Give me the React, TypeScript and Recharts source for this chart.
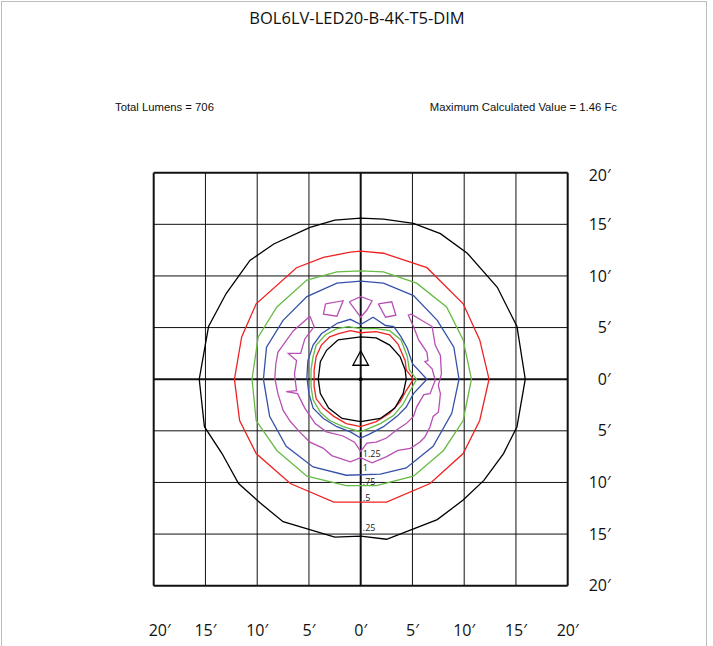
import React from 'react';
import {
  ScatterChart,
  Scatter,
  XAxis,
  YAxis,
  ReferenceLine,
} from 'recharts';

type Pt = { x: number; y: number };

// distance ticks in feet
const ticks = [-20, -15, -10, -5, 0, 5, 10, 15, 20];

// isofootcandle contours, feet from the pole (x right, y up)
const outer025: Pt[] = [
  { x: 0, y: 15.6 }, { x: 2.2, y: 15.5 }, { x: 5.1, y: 15.1 }, { x: 7.7, y: 14.1 },
  { x: 10.3, y: 12.2 }, { x: 13.2, y: 8.9 }, { x: 15.1, y: 5.1 }, { x: 15.9, y: 0 },
  { x: 15.1, y: -4.6 }, { x: 13.8, y: -7.2 }, { x: 11.9, y: -9.8 }, { x: 9.9, y: -11.7 },
  { x: 7.4, y: -13.6 }, { x: 2.5, y: -15.5 }, { x: 0, y: -15.2 }, { x: -2.5, y: -15.3 },
  { x: -7.5, y: -13.8 }, { x: -9.7, y: -12.0 }, { x: -11.8, y: -10.1 }, { x: -13.4, y: -7.2 },
  { x: -15.1, y: -4.6 }, { x: -15.6, y: 0 }, { x: -14.7, y: 5.1 }, { x: -13.0, y: 8.3 },
  { x: -10.7, y: 11.5 }, { x: -8.4, y: 13.1 }, { x: -4.9, y: 14.7 }, { x: -2.5, y: 15.4 },
  { x: 0, y: 15.6 },
];

const outer05: Pt[] = [
  { x: 0, y: 12.4 }, { x: 2.2, y: 12.2 }, { x: 6.4, y: 10.8 }, { x: 9.9, y: 7.3 },
  { x: 11.5, y: 3.8 }, { x: 12.4, y: 0 }, { x: 11.5, y: -4.0 }, { x: 9.9, y: -7.2 },
  { x: 6.7, y: -10.1 }, { x: 2.5, y: -11.9 }, { x: 0, y: -11.9 }, { x: -2.6, y: -11.9 },
  { x: -6.8, y: -10.1 }, { x: -10.1, y: -7.2 }, { x: -11.7, y: -4.0 }, { x: -12.2, y: 0 },
  { x: -11.5, y: 4.1 }, { x: -10.1, y: 7.3 }, { x: -6.2, y: 10.8 }, { x: -3.6, y: 11.8 },
  { x: -1.0, y: 12.3 }, { x: 0, y: 12.4 },
];

const outer075: Pt[] = [
  { x: 0, y: 10.5 }, { x: 2.2, y: 10.4 }, { x: 5.4, y: 9.3 }, { x: 8.3, y: 7.0 },
  { x: 9.9, y: 3.8 }, { x: 10.7, y: 0 }, { x: 9.9, y: -4.0 }, { x: 8.0, y: -6.9 },
  { x: 5.1, y: -9.4 }, { x: 1.5, y: -10.3 }, { x: -1.4, y: -10.3 }, { x: -5.2, y: -9.4 },
  { x: -8.1, y: -6.9 }, { x: -10.1, y: -4.0 }, { x: -10.5, y: 0 }, { x: -9.9, y: 4.1 },
  { x: -8.1, y: 7.0 }, { x: -5.2, y: 9.6 }, { x: -2.3, y: 10.4 }, { x: 0, y: 10.5 },
];

const outer1: Pt[] = [
  { x: 0, y: 9.5 }, { x: 2.2, y: 9.3 }, { x: 5.1, y: 8.1 }, { x: 7.4, y: 5.7 },
  { x: 9.0, y: 3.1 }, { x: 9.5, y: 0 }, { x: 8.8, y: -3.3 }, { x: 7.0, y: -6.5 },
  { x: 4.4, y: -8.6 }, { x: 1.9, y: -9.2 }, { x: -1.4, y: -9.3 }, { x: -4.6, y: -8.5 },
  { x: -7.2, y: -6.5 }, { x: -8.8, y: -3.6 }, { x: -9.4, y: 0 }, { x: -9.1, y: 3.1 },
  { x: -7.5, y: 5.7 }, { x: -5.2, y: 8.0 }, { x: -2.3, y: 9.3 }, { x: 0, y: 9.5 },
];

const inner1: Pt[] = [
  { x: -2.3, y: 5.4 }, { x: -1.0, y: 5.8 }, { x: 0, y: 5.3 }, { x: 1.2, y: 6.0 },
  { x: 2.4, y: 5.2 }, { x: 3.2, y: 5.1 }, { x: 3.9, y: 4.1 }, { x: 4.5, y: 3.0 },
  { x: 5.0, y: 1.5 }, { x: 6.4, y: 0 }, { x: 5.1, y: -1.4 }, { x: 4.4, y: -2.7 },
  { x: 3.5, y: -3.6 }, { x: 2.2, y: -4.6 }, { x: 0.9, y: -5.3 }, { x: 0, y: -5.7 },
  { x: -1.0, y: -5.1 }, { x: -2.3, y: -4.6 }, { x: -3.6, y: -3.8 }, { x: -4.6, y: -2.8 },
  { x: -5.0, y: -1.4 }, { x: -5.2, y: 0.2 }, { x: -5.1, y: 1.8 }, { x: -4.6, y: 3.3 },
  { x: -3.8, y: 4.4 }, { x: -2.3, y: 5.4 },
];

const inner075: Pt[] = [
  { x: -2.3, y: 4.9 }, { x: -1.2, y: 5.1 }, { x: 0, y: 4.9 }, { x: 1.5, y: 4.9 },
  { x: 2.8, y: 4.7 }, { x: 3.9, y: 3.8 }, { x: 4.5, y: 2.2 }, { x: 4.7, y: 0.9 },
  { x: 5.4, y: 0 }, { x: 4.8, y: -1.1 }, { x: 4.1, y: -2.4 }, { x: 3.2, y: -3.5 },
  { x: 1.9, y: -4.3 }, { x: 0, y: -5.1 }, { x: -1.7, y: -4.6 }, { x: -3.0, y: -4.0 },
  { x: -3.9, y: -3.2 }, { x: -4.6, y: -2.0 }, { x: -4.8, y: -0.7 }, { x: -4.8, y: 0.9 },
  { x: -4.6, y: 2.2 }, { x: -4.3, y: 3.3 }, { x: -3.4, y: 4.3 }, { x: -2.3, y: 4.9 },
];

const inner05: Pt[] = [
  { x: -2.2, y: 4.4 }, { x: -1.0, y: 4.7 }, { x: 0, y: 4.5 }, { x: 1.5, y: 4.6 },
  { x: 2.8, y: 4.3 }, { x: 3.6, y: 3.4 }, { x: 4.3, y: 1.8 }, { x: 4.4, y: 0.9 },
  { x: 5.1, y: 0 }, { x: 4.4, y: -1.1 }, { x: 3.8, y: -2.2 }, { x: 2.8, y: -3.3 },
  { x: 1.5, y: -4.1 }, { x: 0, y: -4.6 }, { x: -1.4, y: -4.3 }, { x: -2.6, y: -3.6 },
  { x: -3.6, y: -2.8 }, { x: -4.3, y: -1.9 }, { x: -4.5, y: -0.7 }, { x: -4.5, y: 0.9 },
  { x: -4.3, y: 2.2 }, { x: -3.8, y: 3.3 }, { x: -3.0, y: 4.1 }, { x: -2.2, y: 4.4 },
];

const inner025: Pt[] = [
  { x: -2.2, y: 3.8 }, { x: 0, y: 4.1 }, { x: 1.5, y: 4.0 }, { x: 2.8, y: 3.3 },
  { x: 3.8, y: 2.2 }, { x: 4.3, y: 0.9 }, { x: 4.4, y: 0 }, { x: 4.1, y: -1.4 },
  { x: 3.3, y: -2.8 }, { x: 1.9, y: -3.8 }, { x: 0, y: -4.1 }, { x: -1.8, y: -3.8 },
  { x: -3.1, y: -2.8 }, { x: -3.9, y: -1.4 }, { x: -4.1, y: 0 }, { x: -3.9, y: 1.7 },
  { x: -3.3, y: 2.8 }, { x: -2.2, y: 3.8 },
];

// 1.25 fc band (open at the top) and the three small islands above the pole
const band125: Pt[] = [
  { x: -4.9, y: 6.1 }, { x: -5.7, y: 5.4 }, { x: -6.5, y: 4.7 }, { x: -7.3, y: 3.6 },
  { x: -8.0, y: 2.6 }, { x: -8.2, y: 1.5 }, { x: -8.3, y: 0.1 }, { x: -8.0, y: -1.4 },
  { x: -7.5, y: -3.0 }, { x: -6.8, y: -4.1 }, { x: -5.9, y: -5.1 }, { x: -4.9, y: -6.1 },
  { x: -3.6, y: -6.7 }, { x: -2.8, y: -7.4 }, { x: -1.0, y: -8.0 }, { x: 0, y: -7.6 },
  { x: 1.1, y: -8.1 }, { x: 2.5, y: -7.5 }, { x: 3.6, y: -6.9 }, { x: 4.8, y: -6.7 },
  { x: 5.7, y: -6.1 }, { x: 6.2, y: -5.6 }, { x: 6.7, y: -4.6 }, { x: 7.0, y: -3.6 },
  { x: 7.5, y: -3.2 }, { x: 7.6, y: -2.4 }, { x: 7.7, y: -1.4 }, { x: 7.5, y: -0.6 },
  { x: 7.8, y: 0.5 }, { x: 7.7, y: 2.3 }, { x: 7.2, y: 3.3 }, { x: 6.9, y: 5.1 },
  { x: 4.9, y: 6.3 }, { x: 4.6, y: 6.2 }, { x: 5.1, y: 5.1 }, { x: 5.6, y: 3.8 },
  { x: 6.4, y: 2.6 }, { x: 6.5, y: 1.8 }, { x: 6.2, y: 1.7 }, { x: 6.9, y: 1.0 },
  { x: 7.2, y: -0.1 }, { x: 6.7, y: -1.4 }, { x: 6.1, y: -1.5 }, { x: 5.4, y: -2.7 },
  { x: 5.1, y: -3.6 }, { x: 4.4, y: -4.3 }, { x: 3.5, y: -4.9 }, { x: 2.5, y: -5.7 },
  { x: 1.5, y: -6.1 }, { x: 0.6, y: -6.2 }, { x: 0, y: -7.0 }, { x: -0.6, y: -6.1 },
  { x: -1.7, y: -5.5 }, { x: -3.3, y: -5.1 }, { x: -4.4, y: -4.3 }, { x: -5.4, y: -2.8 },
  { x: -6.1, y: -1.4 }, { x: -7.2, y: -1.2 }, { x: -6.2, y: -1.1 }, { x: -6.4, y: 0.5 },
  { x: -6.2, y: 1.8 }, { x: -7.0, y: 2.5 }, { x: -5.8, y: 2.5 }, { x: -5.4, y: 3.9 },
  { x: -4.5, y: 5.1 }, { x: -4.9, y: 6.1 },
];

const islandLeft: Pt[] = [
  { x: -3.4, y: 7.3 }, { x: -1.7, y: 7.6 }, { x: -2.3, y: 6.1 }, { x: -3.6, y: 6.3 }, { x: -3.4, y: 7.3 },
];
const islandMid: Pt[] = [
  { x: -1.1, y: 7.5 }, { x: 0, y: 8.0 }, { x: 1.1, y: 7.6 }, { x: 0.6, y: 6.7 },
  { x: 0, y: 6.0 }, { x: -0.6, y: 6.8 }, { x: -1.1, y: 7.5 },
];
const islandRight: Pt[] = [
  { x: 1.7, y: 7.3 }, { x: 3.0, y: 7.5 }, { x: 3.4, y: 6.2 }, { x: 2.4, y: 6.0 }, { x: 1.7, y: 7.3 },
];

// luminaire marker
const arrow: Pt[] = [
  { x: 0, y: 2.75 }, { x: 0.75, y: 1.35 }, { x: -0.75, y: 1.35 }, { x: 0, y: 2.75 },
];
const pole: Pt[] = [{ x: 0, y: 0 }];

// contour value labels
const labelNames = ['1.25', '1', '.75', '.5', '.25'];
const labelY = [-7.25, -8.6, -9.95, -11.5, -14.4];
const labelPts = labelNames.map((name, i) => ({ x: 0.2, y: labelY[i], name }));

const RED = '#ee2222';
const GREEN = '#66bb44';
const BLUE = '#3552a8';
const PINK = '#b84fb4';

const series: { data: Pt[]; color: string }[] = [
  { data: outer025, color: '#000' },
  { data: outer05, color: RED },
  { data: outer075, color: GREEN },
  { data: outer1, color: BLUE },
  { data: band125, color: PINK },
  { data: islandLeft, color: PINK },
  { data: islandMid, color: PINK },
  { data: islandRight, color: PINK },
  { data: inner1, color: BLUE },
  { data: inner075, color: GREEN },
  { data: inner05, color: RED },
  { data: inner025, color: '#000' },
  { data: arrow, color: '#000' },
];

const font = '"Open Sans", "Noto Sans", sans-serif';
const noDot = () => <g />;
const smallDot = (p: any) => <circle cx={p.cx} cy={p.cy} r={2} fill="#000" />;

const XTick = (props: any) => {
  const { x, y, payload } = props;
  const v = payload.value as number;
  return (
    <text x={x + (v === -20 ? 6 : 0)} y={y + 45} textAnchor="middle" dy="0.35em" fontSize={16} fontFamily={font} fill="#111">
      {Math.abs(v)}′
    </text>
  );
};

const YTick = (props: any) => {
  const { x, y, payload } = props;
  const v = payload.value as number;
  return (
    <text x={x + 43} y={y + (v === 20 ? 3 : 0)} textAnchor="end" dy="0.35em" fontSize={16} fontFamily={font} fill="#111">
      {Math.abs(v)}′
    </text>
  );
};

const LabelShape = (props: any) => {
  const { cx, cy, payload } = props;
  return (
    <text x={cx} y={cy} dy="0.35em" fontSize={9} fontFamily={font} fill="#222">
      {payload.name}
    </text>
  );
};

export default function App() {
  return (
    <div style={{ position: 'absolute', left: 0, top: 0, width: 713, height: 646, overflow: 'hidden', background: '#fff' }}>
      <div style={{ position: 'absolute', left: 1, top: 1, width: 704, height: 660, border: '1px solid #bdbdbd' }} />
      <div style={{ position: 'absolute', left: 0, top: 6, width: 714, textAlign: 'center', fontFamily: font, fontSize: 16.5, color: '#111' }}>
        BOL6LV-LED20-B-4K-T5-DIM
      </div>
      <div style={{ position: 'absolute', left: 115, top: 101, fontFamily: 'Liberation Sans, Arial, sans-serif', fontSize: 11.3, color: '#111' }}>
        Total Lumens = 706
      </div>
      <div style={{ position: 'absolute', right: 96, top: 101, fontFamily: 'Liberation Sans, Arial, sans-serif', fontSize: 11.3, color: '#111' }}>
        Maximum Calculated Value = 1.46 Fc
      </div>
      <div style={{ position: 'absolute', left: 0, top: 0 }}>
        <ScatterChart width={713} height={646} margin={{ top: 172.7, right: 85.3, bottom: 0.3, left: 153.7 }}>
          <XAxis
            type="number"
            dataKey="x"
            domain={[-20, 20]}
            ticks={ticks}
            allowDataOverflow
            axisLine={false}
            tickLine={false}
            tickSize={0}
            tickMargin={0}
            height={60}
            tick={<XTick />}
          />
          <YAxis
            type="number"
            dataKey="y"
            domain={[-20, 20]}
            ticks={ticks}
            allowDataOverflow
            orientation="right"
            axisLine={false}
            tickLine={false}
            tickSize={0}
            tickMargin={0}
            width={60}
            tick={<YTick />}
          />
          {ticks.map((t) => (
            <ReferenceLine
              key={'v' + t}
              x={t}
              stroke="#111"
              strokeWidth={t === 0 || Math.abs(t) === 20 ? 2 : 1}
            />
          ))}
          {ticks.map((t) => (
            <ReferenceLine
              key={'h' + t}
              y={t}
              stroke="#111"
              strokeWidth={t === 0 || Math.abs(t) === 20 ? 2 : 1}
            />
          ))}
          {series.map((s, i) => (
            <Scatter
              key={i}
              data={s.data}
              line={{ stroke: s.color, strokeWidth: 1.3 }}
              lineType="joint"
              shape={noDot}
              isAnimationActive={false}
            />
          ))}
          <Scatter data={pole} shape={smallDot} isAnimationActive={false} />
          <Scatter data={labelPts} shape={<LabelShape />} isAnimationActive={false} />
        </ScatterChart>
      </div>
    </div>
  );
}
